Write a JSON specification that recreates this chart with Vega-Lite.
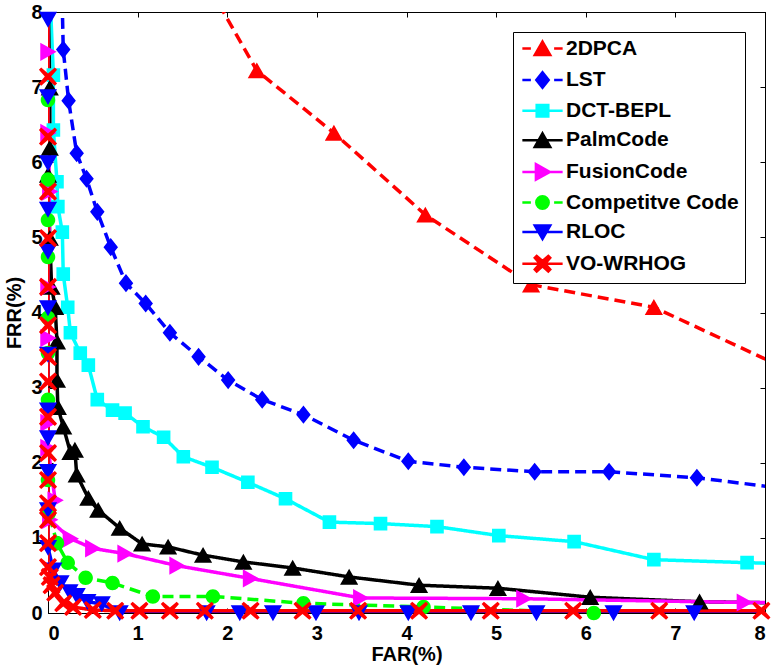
{
"$schema": "https://vega.github.io/schema/vega-lite/v6.json",
"width": 717,
"height": 601,
"autosize": {"type": "none"},
"padding": {"left": 48, "top": 12, "right": 8, "bottom": 54},
"background": "white",
"config": {
  "view": {"stroke": "black", "strokeWidth": 1},
  "axis": {"grid": false, "domainColor": "black", "tickColor": "black", "tickWidth": 1, "tickSize": -5,
           "labelFont": "Liberation Sans", "labelFontWeight": "bold", "labelFontSize": 20, "labelColor": "black",
           "titleFont": "Liberation Sans", "titleFontWeight": "bold", "titleFontSize": 20, "titleColor": "black"},
  "legend": {"symbolStrokeWidth": 2.5}
},
"data": {"values": [
{"s":"2DPCA","o":1,"x":1.72,"y":8.5},{"s":"2DPCA","o":2,"x":2.33,"y":7.22},{"s":"2DPCA","o":3,"x":3.19,"y":6.39},{"s":"2DPCA","o":4,"x":4.21,"y":5.30},{"s":"2DPCA","o":5,"x":5.39,"y":4.37},{"s":"2DPCA","o":6,"x":6.76,"y":4.07},{"s":"2DPCA","o":7,"x":8.4,"y":3.16},
{"s":"LST","o":1,"x":0.15,"y":8.6},{"s":"LST","o":2,"x":0.17,"y":7.50},{"s":"LST","o":3,"x":0.23,"y":6.82},{"s":"LST","o":4,"x":0.32,"y":6.12},{"s":"LST","o":5,"x":0.43,"y":5.78},{"s":"LST","o":6,"x":0.55,"y":5.34},{"s":"LST","o":7,"x":0.70,"y":4.87},{"s":"LST","o":8,"x":0.87,"y":4.39},{"s":"LST","o":9,"x":1.09,"y":4.12},{"s":"LST","o":10,"x":1.36,"y":3.73},{"s":"LST","o":11,"x":1.68,"y":3.41},{"s":"LST","o":12,"x":2.01,"y":3.10},{"s":"LST","o":13,"x":2.39,"y":2.84},{"s":"LST","o":14,"x":2.85,"y":2.64},{"s":"LST","o":15,"x":3.41,"y":2.30},{"s":"LST","o":16,"x":4.02,"y":2.02},{"s":"LST","o":17,"x":4.64,"y":1.94},{"s":"LST","o":18,"x":5.43,"y":1.88},{"s":"LST","o":19,"x":6.26,"y":1.88},{"s":"LST","o":20,"x":7.24,"y":1.80},{"s":"LST","o":21,"x":8.4,"y":1.63},
{"s":"DCT-BEPL","o":1,"x":0.02,"y":8.3},{"s":"DCT-BEPL","o":2,"x":0.06,"y":7.16},{"s":"DCT-BEPL","o":3,"x":0.06,"y":6.43},{"s":"DCT-BEPL","o":4,"x":0.10,"y":5.74},{"s":"DCT-BEPL","o":5,"x":0.11,"y":5.41},{"s":"DCT-BEPL","o":6,"x":0.16,"y":5.07},{"s":"DCT-BEPL","o":7,"x":0.17,"y":4.51},{"s":"DCT-BEPL","o":8,"x":0.22,"y":4.07},{"s":"DCT-BEPL","o":9,"x":0.25,"y":3.73},{"s":"DCT-BEPL","o":10,"x":0.36,"y":3.46},{"s":"DCT-BEPL","o":11,"x":0.45,"y":3.30},{"s":"DCT-BEPL","o":12,"x":0.55,"y":2.84},{"s":"DCT-BEPL","o":13,"x":0.72,"y":2.70},{"s":"DCT-BEPL","o":14,"x":0.86,"y":2.66},{"s":"DCT-BEPL","o":15,"x":1.06,"y":2.48},{"s":"DCT-BEPL","o":16,"x":1.29,"y":2.34},{"s":"DCT-BEPL","o":17,"x":1.51,"y":2.08},{"s":"DCT-BEPL","o":18,"x":1.83,"y":1.94},{"s":"DCT-BEPL","o":19,"x":2.23,"y":1.74},{"s":"DCT-BEPL","o":20,"x":2.65,"y":1.52},{"s":"DCT-BEPL","o":21,"x":3.14,"y":1.21},{"s":"DCT-BEPL","o":22,"x":3.71,"y":1.19},{"s":"DCT-BEPL","o":23,"x":4.34,"y":1.15},{"s":"DCT-BEPL","o":24,"x":5.03,"y":1.03},{"s":"DCT-BEPL","o":25,"x":5.87,"y":0.95},{"s":"DCT-BEPL","o":26,"x":6.76,"y":0.71},{"s":"DCT-BEPL","o":27,"x":7.80,"y":0.67},{"s":"DCT-BEPL","o":28,"x":8.4,"y":0.65},
{"s":"PalmCode","o":1,"x":0.0,"y":8.3},{"s":"PalmCode","o":2,"x":0.02,"y":6.99},{"s":"PalmCode","o":3,"x":0.02,"y":6.19},{"s":"PalmCode","o":4,"x":0.0,"y":5.83},{"s":"PalmCode","o":5,"x":0.02,"y":4.99},{"s":"PalmCode","o":6,"x":0.04,"y":4.34},{"s":"PalmCode","o":7,"x":0.08,"y":4.07},{"s":"PalmCode","o":8,"x":0.10,"y":3.61},{"s":"PalmCode","o":9,"x":0.10,"y":3.10},{"s":"PalmCode","o":10,"x":0.11,"y":2.74},{"s":"PalmCode","o":11,"x":0.17,"y":2.48},{"s":"PalmCode","o":12,"x":0.25,"y":2.14},{"s":"PalmCode","o":13,"x":0.30,"y":2.17},{"s":"PalmCode","o":14,"x":0.32,"y":1.84},{"s":"PalmCode","o":15,"x":0.45,"y":1.53},{"s":"PalmCode","o":16,"x":0.56,"y":1.37},{"s":"PalmCode","o":17,"x":0.80,"y":1.13},{"s":"PalmCode","o":18,"x":1.05,"y":0.92},{"s":"PalmCode","o":19,"x":1.34,"y":0.88},{"s":"PalmCode","o":20,"x":1.73,"y":0.77},{"s":"PalmCode","o":21,"x":2.18,"y":0.68},{"s":"PalmCode","o":22,"x":2.73,"y":0.60},{"s":"PalmCode","o":23,"x":3.36,"y":0.48},{"s":"PalmCode","o":24,"x":4.14,"y":0.37},{"s":"PalmCode","o":25,"x":5.02,"y":0.33},{"s":"PalmCode","o":26,"x":6.05,"y":0.21},{"s":"PalmCode","o":27,"x":7.27,"y":0.15},{"s":"PalmCode","o":28,"x":8.4,"y":0.13},
{"s":"FusionCode","o":1,"x":0.0,"y":8.3},{"s":"FusionCode","o":2,"x":0.0,"y":7.47},{"s":"FusionCode","o":3,"x":0.0,"y":6.39},{"s":"FusionCode","o":4,"x":0.02,"y":5.61},{"s":"FusionCode","o":5,"x":0.0,"y":4.34},{"s":"FusionCode","o":6,"x":0.0,"y":3.66},{"s":"FusionCode","o":7,"x":0.0,"y":2.53},{"s":"FusionCode","o":8,"x":0.0,"y":2.20},{"s":"FusionCode","o":9,"x":0.08,"y":1.50},{"s":"FusionCode","o":10,"x":0.02,"y":1.24},{"s":"FusionCode","o":11,"x":0.25,"y":0.99},{"s":"FusionCode","o":12,"x":0.50,"y":0.86},{"s":"FusionCode","o":13,"x":0.86,"y":0.79},{"s":"FusionCode","o":14,"x":1.44,"y":0.63},{"s":"FusionCode","o":15,"x":2.26,"y":0.46},{"s":"FusionCode","o":16,"x":3.49,"y":0.20},{"s":"FusionCode","o":17,"x":5.31,"y":0.19},{"s":"FusionCode","o":18,"x":7.77,"y":0.14},{"s":"FusionCode","o":19,"x":8.4,"y":0.14},
{"s":"Competitve Code","o":1,"x":0.0,"y":8.3},{"s":"Competitve Code","o":2,"x":0.0,"y":6.83},{"s":"Competitve Code","o":3,"x":0.0,"y":5.77},{"s":"Competitve Code","o":4,"x":0.0,"y":5.23},{"s":"Competitve Code","o":5,"x":0.0,"y":4.74},{"s":"Competitve Code","o":6,"x":0.0,"y":3.93},{"s":"Competitve Code","o":7,"x":0.0,"y":3.46},{"s":"Competitve Code","o":8,"x":0.0,"y":2.84},{"s":"Competitve Code","o":9,"x":0.0,"y":1.77},{"s":"Competitve Code","o":10,"x":0.01,"y":1.33},{"s":"Competitve Code","o":11,"x":0.10,"y":0.93},{"s":"Competitve Code","o":12,"x":0.22,"y":0.67},{"s":"Competitve Code","o":13,"x":0.42,"y":0.47},{"s":"Competitve Code","o":14,"x":0.72,"y":0.40},{"s":"Competitve Code","o":15,"x":1.17,"y":0.22},{"s":"Competitve Code","o":16,"x":1.84,"y":0.22},{"s":"Competitve Code","o":17,"x":2.85,"y":0.13},{"s":"Competitve Code","o":18,"x":4.19,"y":0.08},{"s":"Competitve Code","o":19,"x":6.09,"y":0.0},
{"s":"RLOC","o":1,"x":0.0,"y":8.3},{"s":"RLOC","o":2,"x":0.0,"y":7.9},{"s":"RLOC","o":3,"x":0.0,"y":6.87},{"s":"RLOC","o":4,"x":0.0,"y":5.99},{"s":"RLOC","o":5,"x":0.0,"y":5.37},{"s":"RLOC","o":6,"x":0.0,"y":4.81},{"s":"RLOC","o":7,"x":0.0,"y":4.06},{"s":"RLOC","o":8,"x":0.0,"y":3.44},{"s":"RLOC","o":9,"x":0.0,"y":2.70},{"s":"RLOC","o":10,"x":0.0,"y":2.33},{"s":"RLOC","o":11,"x":0.0,"y":1.88},{"s":"RLOC","o":12,"x":0.0,"y":1.37},{"s":"RLOC","o":13,"x":0.0,"y":0.87},{"s":"RLOC","o":14,"x":0.06,"y":0.57},{"s":"RLOC","o":15,"x":0.14,"y":0.40},{"s":"RLOC","o":16,"x":0.24,"y":0.28},{"s":"RLOC","o":17,"x":0.32,"y":0.23},{"s":"RLOC","o":18,"x":0.44,"y":0.15},{"s":"RLOC","o":19,"x":0.60,"y":0.12},{"s":"RLOC","o":20,"x":0.80,"y":0.0},{"s":"RLOC","o":21,"x":1.77,"y":0.0},{"s":"RLOC","o":22,"x":2.14,"y":0.0},{"s":"RLOC","o":23,"x":2.51,"y":0.0},{"s":"RLOC","o":24,"x":2.99,"y":0.0},{"s":"RLOC","o":25,"x":3.47,"y":0.0},{"s":"RLOC","o":26,"x":4.02,"y":0.0},{"s":"RLOC","o":27,"x":4.72,"y":0.0},{"s":"RLOC","o":28,"x":5.45,"y":0.0},{"s":"RLOC","o":29,"x":6.31,"y":0.0},{"s":"RLOC","o":30,"x":7.21,"y":0.0},{"s":"RLOC","o":31,"x":8.4,"y":0.0},
{"s":"VO-WRHOG","o":1,"x":0.0,"y":8.3},{"s":"VO-WRHOG","o":2,"x":0.0,"y":7.14},{"s":"VO-WRHOG","o":3,"x":0.0,"y":6.34},{"s":"VO-WRHOG","o":4,"x":0.0,"y":5.61},{"s":"VO-WRHOG","o":5,"x":0.0,"y":4.99},{"s":"VO-WRHOG","o":6,"x":0.0,"y":4.34},{"s":"VO-WRHOG","o":7,"x":0.0,"y":3.83},{"s":"VO-WRHOG","o":8,"x":0.0,"y":3.41},{"s":"VO-WRHOG","o":9,"x":0.0,"y":3.08},{"s":"VO-WRHOG","o":10,"x":0.0,"y":2.61},{"s":"VO-WRHOG","o":11,"x":0.0,"y":2.13},{"s":"VO-WRHOG","o":12,"x":0.0,"y":1.77},{"s":"VO-WRHOG","o":13,"x":0.0,"y":1.46},{"s":"VO-WRHOG","o":14,"x":0.0,"y":1.24},{"s":"VO-WRHOG","o":15,"x":0.0,"y":0.93},{"s":"VO-WRHOG","o":16,"x":0.0,"y":0.61},{"s":"VO-WRHOG","o":17,"x":0.02,"y":0.48},{"s":"VO-WRHOG","o":18,"x":0.04,"y":0.37},{"s":"VO-WRHOG","o":19,"x":0.08,"y":0.27},{"s":"VO-WRHOG","o":20,"x":0.17,"y":0.13},{"s":"VO-WRHOG","o":21,"x":0.28,"y":0.08},{"s":"VO-WRHOG","o":22,"x":0.50,"y":0.04},{"s":"VO-WRHOG","o":23,"x":0.75,"y":0.03},{"s":"VO-WRHOG","o":24,"x":1.02,"y":0.03},{"s":"VO-WRHOG","o":25,"x":1.36,"y":0.03},{"s":"VO-WRHOG","o":26,"x":1.75,"y":0.03},{"s":"VO-WRHOG","o":27,"x":2.26,"y":0.03},{"s":"VO-WRHOG","o":28,"x":2.84,"y":0.03},{"s":"VO-WRHOG","o":29,"x":3.46,"y":0.03},{"s":"VO-WRHOG","o":30,"x":4.14,"y":0.03},{"s":"VO-WRHOG","o":31,"x":4.94,"y":0.03},{"s":"VO-WRHOG","o":32,"x":5.86,"y":0.03},{"s":"VO-WRHOG","o":33,"x":6.82,"y":0.03},{"s":"VO-WRHOG","o":34,"x":7.96,"y":0.03}
]},
"layer": [
  {
    "mark": {"type": "line", "strokeWidth": 3.5, "clip": true},
    "encoding": {
      "x": {"field": "x", "type": "quantitative", "scale": {"domain": [0, 8], "nice": false, "zero": false},
            "axis": {"orient": "top", "labels": false, "title": null, "values": [0,1,2,3,4,5,6,7,8]}},
      "y": {"field": "y", "type": "quantitative", "scale": {"domain": [0, 8], "nice": false, "zero": false},
            "axis": {"orient": "right", "labels": false, "title": null, "values": [0,1,2,3,4,5,6,7,8]}},
      "color": {"field": "s", "type": "nominal",
                "scale": {"domain": ["2DPCA","LST","DCT-BEPL","PalmCode","FusionCode","Competitve Code","RLOC","VO-WRHOG"],
                          "range": ["#FF0000","#0000FF","#00FFFF","#000000","#FF00FF","#00FF00","#0000FF","#FF0000"]},
                "legend": {"title": null, "orient": "top-right", "offset": 20, "padding": 6, "symbolOffset": 13, "labelOffset": 13,
                           "labelFont": "Liberation Sans", "labelFontWeight": "bold", "labelFontSize": 21, "labelColor": "black", "labelLimit": 400,
                           "symbolSize": 240, "rowPadding": 5.6, "strokeColor": "black", "fillColor": "white"}},
      "strokeDash": {"field": "s", "type": "nominal", "legend": null,
                 "scale": {"domain": ["LST","2DPCA","Competitve Code","DCT-BEPL","PalmCode","FusionCode","RLOC","VO-WRHOG"],
                           "range": [[11,6],[11,6],[11,6],[1,0],[1,0],[1,0],[1,0],[1,0]]}},
      "order": {"field": "o", "type": "quantitative"}
    }
  },
  {
    "transform": [{"filter": "datum.x <= 8.05 && datum.y <= 8.05"}],
    "mark": {"type": "point", "filled": true, "opacity": 1, "size": 330},
    "encoding": {
      "x": {"field": "x", "type": "quantitative", "scale": {"domain": [0, 8], "nice": false, "zero": false},
            "axis": {"orient": "bottom", "title": "FAR(%)", "values": [0,1,2,3,4,5,6,7,8], "labelPadding": 15, "titlePadding": 1}},
      "y": {"field": "y", "type": "quantitative", "scale": {"domain": [0, 8], "nice": false, "zero": false},
            "axis": {"orient": "left", "title": "FRR(%)", "values": [0,1,2,3,4,5,6,7,8], "labelPadding": 11, "titlePadding": 6}},
      "color": {"field": "s", "type": "nominal",
                "scale": {"domain": ["2DPCA","LST","DCT-BEPL","PalmCode","FusionCode","Competitve Code","RLOC","VO-WRHOG"],
                          "range": ["#FF0000","#0000FF","#00FFFF","#000000","#FF00FF","#00FF00","#0000FF","#FF0000"]},
                "legend": {"title": null, "orient": "top-right", "offset": 20, "padding": 6, "symbolOffset": 13, "labelOffset": 13,
                           "labelFont": "Liberation Sans", "labelFontWeight": "bold", "labelFontSize": 21, "labelColor": "black", "labelLimit": 400,
                           "symbolSize": 240, "rowPadding": 5.6, "strokeColor": "black", "fillColor": "white"}},
      "shape": {"field": "s", "type": "nominal",
                "scale": {"domain": ["2DPCA","LST","DCT-BEPL","PalmCode","FusionCode","Competitve Code","RLOC","VO-WRHOG"],
                          "range": [
                            "M-2.6,0H-1.5M1.5,0H2.6M0,-0.9L1,0.85L-1,0.85Z",
                            "M-2.6,0H-1.5M1.5,0H2.6M0,-1L0.8,0L0,1L-0.8,0Z",
                            "M-2.6,0H2.6M-0.75,-0.75H0.75V0.75H-0.75Z",
                            "M-2.6,0H2.6M0,-0.9L1,0.85L-1,0.85Z",
                            "M-2.6,0H2.6M-0.85,-1L0.95,0L-0.85,1Z",
                            "M-2.6,0H-1.5M1.5,0H2.6M-0.8,0A0.8,0.8,0,1,0,0.8,0A0.8,0.8,0,1,0,-0.8,0Z",
                            "M-2.6,0H2.6M-1,-0.85L1,-0.85L0,0.9Z",
                            "M-2.6,0H2.6M-1,-0.75L-0.75,-1L0,-0.35L0.75,-1L1,-0.75L0.35,0L1,0.75L0.75,1L0,0.35L-0.75,1L-1,0.75L-0.35,0Z"
                          ]},
                "legend": {"title": null}}
    }
  }
],
"resolve": {"axis": {"x": "independent", "y": "independent"}}
}
